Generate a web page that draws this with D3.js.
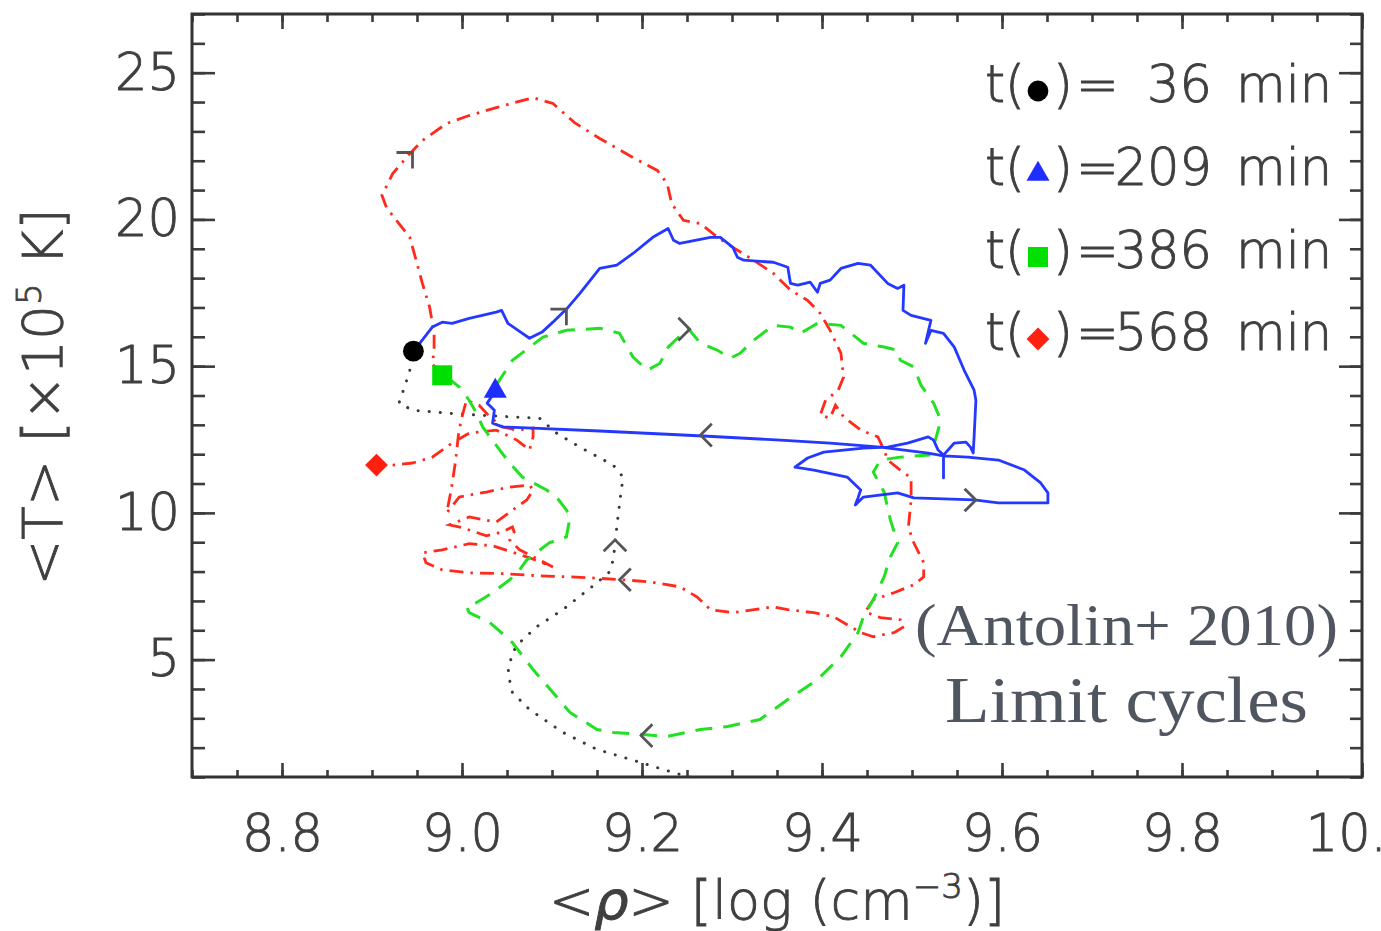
<!DOCTYPE html>
<html>
<head>
<meta charset="utf-8">
<script src="https://cdn.jsdelivr.net/npm/d3@7"></script>
<style>
  html, body { margin: 0; padding: 0; background: #fff; }
  svg { display: block; }
</style>
</head>
<body>
<svg id="chart" width="1381" height="931"></svg>
<script>
// Phase-space tracks: mean density <rho> (log cm^-3) against mean temperature <T> (1e5 K)

// dotted track, before the first marker
const preTrack = [
  [9.253,0.99],[9.223,1.26],[9.198,1.50],[9.150,1.94],[9.112,2.52],[9.075,3.30],[9.056,3.88],
  [9.051,4.56],[9.056,5.24],[9.064,5.58],[9.083,6.12],[9.112,6.70],[9.150,7.62],[9.164,7.99],
  [9.168,8.40],[9.170,8.91],[9.172,9.52],[9.176,10.54],[9.179,11.22],[9.168,11.63],[9.131,12.24],
  [9.105,12.72],[9.086,13.23],[9.056,13.27],[9.019,13.33],[8.983,13.40],[8.945,13.50],[8.930,13.74],
  [8.938,14.46],[8.942,14.86],[8.945,15.48]
];

// solid track, 36 -> 209 min
const track1 = [
  [8.946,15.51],[8.953,15.78],[8.967,16.33],[8.978,16.50],[8.989,16.46],[9.008,16.63],[9.038,16.84],
  [9.044,16.90],[9.051,16.46],[9.075,15.95],[9.089,16.16],[9.101,16.50],[9.118,17.01],[9.131,17.48],
  [9.153,18.33],[9.172,18.44],[9.190,18.84],[9.212,19.39],[9.229,19.69],[9.235,19.29],[9.242,19.18],
  [9.276,19.39],[9.287,19.39],[9.301,19.05],[9.306,18.71],[9.313,18.61],[9.346,18.54],[9.362,18.37],
  [9.365,17.82],[9.373,17.76],[9.387,17.86],[9.395,17.52],[9.398,17.82],[9.409,17.93],[9.421,18.33],
  [9.440,18.50],[9.454,18.44],[9.473,17.82],[9.484,17.65],[9.491,17.76],[9.490,16.90],[9.499,16.73],
  [9.521,16.56],[9.515,15.78],[9.521,16.22],[9.535,16.12],[9.547,15.65],[9.558,14.86],[9.569,14.18],
  [9.571,13.84],[9.569,12.59],[9.568,12.04],[9.565,12.24],[9.560,12.41],[9.547,12.38],[9.535,11.97],
  [9.535,11.19],[9.535,11.97],[9.529,12.14],[9.524,12.48],[9.518,12.59],[9.495,12.38],[9.473,12.24],
  [9.446,12.21],[9.402,12.07],[9.384,11.87],[9.370,11.56],[9.391,11.46],[9.428,11.22],[9.443,10.78],
  [9.440,10.51],[9.437,10.27],[9.446,10.54],[9.484,10.68],[9.502,10.51],[9.569,10.44],[9.596,10.34],
  [9.651,10.34],[9.651,10.68],[9.643,11.02],[9.625,11.46],[9.596,11.80],[9.562,11.90],[9.535,11.94],
  [9.518,12.04],[9.465,12.24],[9.409,12.38],[9.354,12.48],[9.268,12.62],[9.153,12.79],[9.079,12.89],
  [9.045,12.93],[9.034,13.06],[9.036,13.50],[9.028,13.74],[9.037,14.15]
];

// dashed track, 209 -> 386 min
const track2 = [
  [9.038,14.35],[9.056,15.20],[9.090,15.99],[9.116,16.22],[9.153,16.29],[9.175,16.12],[9.190,15.31],
  [9.206,14.86],[9.220,15.10],[9.229,15.65],[9.251,16.29],[9.265,15.78],[9.284,15.54],[9.298,15.27],
  [9.309,15.44],[9.324,15.88],[9.346,16.39],[9.365,16.33],[9.376,16.12],[9.395,16.46],[9.421,16.39],
  [9.428,16.22],[9.446,15.78],[9.469,15.65],[9.484,15.54],[9.487,15.20],[9.502,14.97],[9.510,14.35],
  [9.524,13.74],[9.532,13.16],[9.526,12.48],[9.519,11.97],[9.487,11.90],[9.465,11.80],[9.457,11.39],
  [9.469,10.71],[9.476,9.76],[9.484,8.98],[9.476,8.50],[9.469,7.82],[9.457,7.04],[9.446,6.46],
  [9.440,5.92],[9.421,5.10],[9.395,4.32],[9.362,3.64],[9.331,2.96],[9.295,2.72],[9.265,2.62],
  [9.228,2.38],[9.201,2.45],[9.168,2.52],[9.150,2.62],[9.120,3.20],[9.101,3.88],[9.079,4.66],
  [9.056,5.58],[9.031,6.26],[9.008,6.60],[9.005,6.80],[9.016,6.94],[9.034,7.28],[9.053,7.72],
  [9.064,8.06],[9.072,8.40],[9.097,8.98],[9.116,9.18],[9.120,9.86],[9.116,10.10],[9.105,10.54],
  [9.094,10.78],[9.067,11.22],[9.053,11.70],[9.042,12.14],[9.031,12.59],[9.023,12.93],[9.016,13.40],
  [9.008,13.84],[8.997,14.29],[8.983,14.63]
];

// dash-dot track, 386 -> 568 min
const track3 = [
  [8.978,14.69],[8.967,15.07],[8.969,15.54],[8.969,16.12],[8.964,17.01],[8.956,17.82],[8.949,18.61],
  [8.942,19.39],[8.927,19.97],[8.916,20.41],[8.911,20.82],[8.923,21.56],[8.942,22.24],[8.956,22.69],
  [8.983,23.27],[9.008,23.54],[9.038,23.81],[9.079,24.15],[9.101,23.95],[9.125,23.30],[9.153,22.76],
  [9.190,22.11],[9.217,21.67],[9.228,21.22],[9.233,20.54],[9.246,19.97],[9.265,19.86],[9.284,19.39],
  [9.301,19.05],[9.324,18.61],[9.346,18.16],[9.365,17.59],[9.384,17.24],[9.398,16.80],[9.409,16.22],
  [9.421,15.44],[9.424,14.63],[9.418,14.18],[9.404,13.84],[9.398,13.33],[9.409,13.23],[9.415,13.67],
  [9.424,13.27],[9.443,12.82],[9.462,12.59],[9.469,12.14],[9.473,11.80],[9.487,11.46],[9.499,11.19],
  [9.499,10.44],[9.496,9.52],[9.502,8.98],[9.513,8.30],[9.513,7.82],[9.502,7.55],[9.480,7.28],
  [9.457,7.04],[9.448,6.63],[9.465,6.43],[9.487,6.36],[9.491,6.12],[9.480,5.92],[9.457,5.78],
  [9.443,5.92],[9.413,6.46],[9.391,6.60],[9.362,6.70],[9.346,6.80],[9.301,6.60],[9.276,6.70],
  [9.261,7.14],[9.242,7.48],[9.209,7.65],[9.179,7.72],[9.142,7.79],[9.120,7.82],[9.083,7.86],
  [9.045,7.93],[9.008,7.96],[8.978,8.06],[8.960,8.30],[8.956,8.64],[8.978,8.74],[9.008,8.95],
  [9.034,8.88],[9.075,8.47],[9.101,8.16],[9.064,8.74],[9.053,9.08],[9.058,9.35],[9.056,9.52],
  [9.045,9.35],[9.027,9.22],[9.001,9.49],[8.986,9.59],[9.008,9.86],[9.038,9.69],[9.061,10.20],
  [9.072,10.44],[9.079,10.78],[9.075,10.95],[9.053,10.88],[9.027,10.71],[8.997,10.54],[8.983,10.00],
  [8.988,10.78],[8.993,11.80],[8.996,12.65],[8.999,13.16],[9.005,13.84],[9.019,13.67],[9.031,13.27],
  [9.045,12.93],[9.061,12.82],[9.079,12.89],[9.079,12.59],[9.075,12.14],[9.061,12.48],[9.038,12.82],
  [9.008,12.72],[8.989,12.38],[8.967,11.90],[8.945,11.70],[8.923,11.63],[8.905,11.63]
];

// time markers: minutes and (rho, T) positions
const markerTimes = [36, 209, 386, 568];
const markerRho = [8.946, 9.037, 8.978, 8.905];
const markerT = [15.51, 14.15, 14.69, 11.63];

// direction arrows along the tracks: rho, T, heading (screen degrees)
const arrowRho = [8.945, 9.116, 9.253, 9.265, 9.571, 9.175, 9.170, 9.199];
const arrowT   = [22.28, 16.94, 16.26, 12.65, 10.44, 7.72, 9.08, 2.41];
const arrowDir = [-45, -45, 0, 180, 0, 180, -90, 180];

const xTickValues = [8.8, 9.0, 9.2, 9.4, 9.6, 9.8, 10.0];
const yTickValues = [5, 10, 15, 20, 25];

// ---------------------------------------------------------------
const svg = d3.select("#chart");
const L = 192, R = 1362, T = 14, B = 777;
const x = d3.scaleLinear().domain([8.7, 10.0]).range([L, R]);
const y = d3.scaleLinear().domain([1, 27]).range([B, T]);

svg.append("rect").attr("width", 1381).attr("height", 931).attr("fill", "#fff");

const axisFont = "'DejaVu Sans', 'Liberation Sans', sans-serif";
const inkGrey = "#3f3f3f";

// thin sans text, slightly thickened with a matching outline
function thinText(sel, size) {
  return sel.attr("font-family", axisFont).attr("font-weight", 300)
    .attr("font-size", size).attr("fill", inkGrey)
    .attr("stroke", inkGrey).attr("stroke-width", 0.9);
}

// minor ticks
const xMinor = d3.range(8.7, 10.0001, 0.05);
const yMinor = d3.range(1, 27.0001, 1);

function styleAxis(g) {
  g.select(".domain").remove();
  g.selectAll(".tick line").attr("stroke", "#3c3c3c").attr("stroke-width", 2.6);
}

svg.append("g").attr("transform", `translate(0,${B})`)
  .call(d3.axisBottom(x).tickValues(xMinor).tickSizeInner(-7).tickSizeOuter(0).tickFormat(""))
  .call(styleAxis);
svg.append("g").attr("transform", `translate(0,${T})`)
  .call(d3.axisTop(x).tickValues(xMinor).tickSizeInner(-8).tickSizeOuter(0).tickFormat(""))
  .call(styleAxis);
svg.append("g").attr("transform", `translate(${L},0)`)
  .call(d3.axisLeft(y).tickValues(yMinor).tickSizeInner(-13).tickSizeOuter(0).tickFormat(""))
  .call(styleAxis);
svg.append("g").attr("transform", `translate(${R},0)`)
  .call(d3.axisRight(y).tickValues(yMinor).tickSizeInner(-12).tickSizeOuter(0).tickFormat(""))
  .call(styleAxis);

// major ticks with labels
const xAxis = svg.append("g").attr("transform", `translate(0,${B})`)
  .call(d3.axisBottom(x).tickValues(xTickValues).tickSizeInner(-14).tickSizeOuter(0)
    .tickPadding(38).tickFormat(d3.format(".1f")))
  .call(styleAxis);
svg.append("g").attr("transform", `translate(0,${T})`)
  .call(d3.axisTop(x).tickValues(xTickValues).tickSizeInner(-15).tickSizeOuter(0).tickFormat(""))
  .call(styleAxis);
const yAxis = svg.append("g").attr("transform", `translate(${L},0)`)
  .call(d3.axisLeft(y).tickValues(yTickValues).tickSizeInner(-23).tickSizeOuter(0)
    .tickPadding(12).tickFormat(d3.format("d")))
  .call(styleAxis);
svg.append("g").attr("transform", `translate(${R},0)`)
  .call(d3.axisRight(y).tickValues(yTickValues).tickSizeInner(-23).tickSizeOuter(0).tickFormat(""))
  .call(styleAxis);

[xAxis, yAxis].forEach(g => thinText(g.selectAll("text"), 51));

// frame
svg.append("rect").attr("x", L).attr("y", T).attr("width", R - L).attr("height", B - T)
  .attr("fill", "none").attr("stroke", "#333").attr("stroke-width", 3);

// tracks
svg.append("clipPath").attr("id", "plotClip")
  .append("rect").attr("x", L).attr("y", T).attr("width", R - L).attr("height", B - T);
const plot = svg.append("g").attr("clip-path", "url(#plotClip)");
const line = d3.line().x(d => x(d[0])).y(d => y(d[1]));

plot.append("path").datum(preTrack).attr("d", line)
  .attr("fill", "none").attr("stroke", "#3a3a3a").attr("stroke-width", 3)
  .attr("stroke-linecap", "round").attr("stroke-dasharray", "0.1 11");
plot.append("path").datum(track3).attr("d", line)
  .attr("fill", "none").attr("stroke", "#ff2a1c").attr("stroke-width", 2.8)
  .attr("stroke-dasharray", "14 7 2.5 7");
plot.append("path").datum(track2).attr("d", line)
  .attr("fill", "none").attr("stroke", "#22e022").attr("stroke-width", 3)
  .attr("stroke-dasharray", "17 11");
plot.append("path").datum(track1).attr("d", line)
  .attr("fill", "none").attr("stroke", "#2438ff").attr("stroke-width", 2.8)
  .attr("stroke-linejoin", "round");

// heading arrows (open chevrons)
const armLen = 16;
arrowRho.forEach((r, i) => {
  const px = x(r), py = y(arrowT[i]);
  const back = (arrowDir[i] + 180) * Math.PI / 180;
  const a1 = back - Math.PI / 4, a2 = back + Math.PI / 4;
  const p = d3.path();
  p.moveTo(px + armLen * Math.cos(a1), py + armLen * Math.sin(a1));
  p.lineTo(px, py);
  p.lineTo(px + armLen * Math.cos(a2), py + armLen * Math.sin(a2));
  plot.append("path").attr("d", p.toString())
    .attr("fill", "none").attr("stroke", "#555").attr("stroke-width", 2.8);
});

// markers
const markerStyle = [
  { type: d3.symbolCircle,   size: 340, color: "#000000", rot: 0 },
  { type: d3.symbolTriangle, size: 230, color: "#1d2eff", rot: 0 },
  { type: d3.symbolSquare,   size: 400, color: "#00e000", rot: 0 },
  { type: d3.symbolSquare,   size: 260, color: "#ff2010", rot: 45 }
];
function drawMarker(g, i, cx, cy) {
  const s = markerStyle[i];
  g.append("path")
    .attr("d", d3.symbol().type(s.type).size(s.size)())
    .attr("transform", `translate(${cx},${cy}) rotate(${s.rot})`)
    .attr("fill", s.color);
}
markerRho.forEach((r, i) => drawMarker(svg, i, x(r), y(markerT[i])));

// legend: time of each marker
const legendBase = [102, 185, 268, 350];
markerTimes.forEach((t, i) => {
  const by = legendBase[i];
  const g = thinText(svg.append("g"), 51);
  g.append("text").attr("x", 985).attr("y", by).text("t(");
  drawMarker(svg, i, 1038, by - 11);
  g.append("text").attr("x", 1053).attr("y", by).text(")");
  g.append("text").attr("x", 1076).attr("y", by).text("=");
  g.append("text").attr("x", 1212).attr("y", by).attr("text-anchor", "end").text(t);
  g.append("text").attr("x", 1236).attr("y", by).text("min");
});

// axis titles
const xt = thinText(svg.append("text"), 54)
  .attr("x", 777).attr("y", 919).attr("text-anchor", "middle");
xt.append("tspan").text("<");
xt.append("tspan").attr("font-style", "italic").text("ρ");
xt.append("tspan").text("> [log (cm");
xt.append("tspan").attr("dy", -21).attr("font-size", 34).text("−3");
xt.append("tspan").attr("dy", 21).text(")]");

const yt = thinText(svg.append("text"), 55)
  .attr("transform", "translate(62,397) rotate(-90)")
  .attr("text-anchor", "middle");
yt.append("tspan").text("<T> [×10");
yt.append("tspan").attr("dy", -21).attr("font-size", 34).text("5");
yt.append("tspan").attr("dy", 21).text(" K]");

// annotation
const serif = "'Liberation Serif', 'DejaVu Serif', serif";
svg.append("text").attr("x", 915).attr("y", 645)
  .attr("font-family", serif).attr("font-size", 60).attr("fill", "#50565f")
  .attr("textLength", 423).attr("lengthAdjust", "spacingAndGlyphs")
  .text("(Antolin+ 2010)");
svg.append("text").attr("x", 945).attr("y", 722)
  .attr("font-family", serif).attr("font-size", 66).attr("fill", "#50565f")
  .attr("textLength", 363).attr("lengthAdjust", "spacingAndGlyphs")
  .text("Limit cycles");
</script>
</body>
</html>
